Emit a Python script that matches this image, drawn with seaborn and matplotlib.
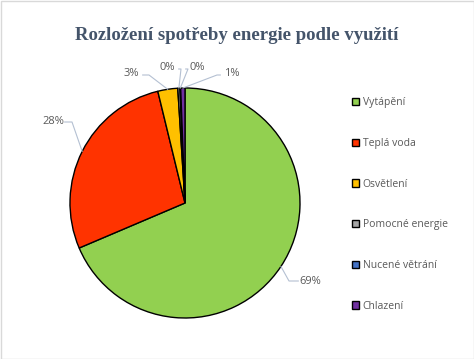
import numpy as np
import matplotlib
matplotlib.use("Agg")
import matplotlib.pyplot as plt
import seaborn as sns

categories = ["Vytápění", "Teplá voda", "Osvětlení", "Pomocné energie", "Nucené větrání", "Chlazení"]
values = [68.6, 27.6, 2.8, 0.3, 0.1, 0.6]
colors = ["#92D050", "#FF3300", "#FFC000", "#A6A6A6", "#4472C4", "#7030A0"]
title = "Rozložení spotřeby energie podle využití"

sns.set_theme(style="white")
plt.rcParams['font.family'] = ['Open Sans', 'DejaVu Sans']

W, H = 474, 359
fig = plt.figure(figsize=(W / 100, H / 100), dpi=100)
cx, cy, r = 185, 203, 115
ax = fig.add_axes([(cx - r) / W, (H - cy - r) / H, 2 * r / W, 2 * r / H])

wedges, _ = ax.pie(values, colors=colors, startangle=90, counterclock=False,
                   wedgeprops=dict(edgecolor="black", linewidth=1.0))
ax.set_xlim(-1, 1)
ax.set_ylim(-1, 1)
ax.set_aspect("equal")
ax.axis("off")

# label text positions (pixels) for layout
label_px = [(310, 281), (53, 121), (131, 74), (167, 68), (197, 67), (232, 74)]
elbow_px = [(289, 281), (72, 122), (149, 75), (181, 69), (188, 69), (217, 75)]
total = sum(values)
for w, v, (tx, ty), (ex, ey) in zip(wedges, values, label_px, elbow_px):
    ang = np.deg2rad((w.theta1 + w.theta2) / 2)
    xa, ya = np.cos(ang), np.sin(ang)
    txd, tyd = (tx - cx) / r, (cy - ty) / r
    exd, eyd = (ex - cx) / r, (cy - ey) / r
    endx = txd + (-0.1 if tx > ex else 0.1)
    ax.plot([xa, exd, endx], [ya, eyd, eyd], color="#B4C0D2", lw=0.8, clip_on=False)
    ax.text(txd, tyd, f"{v / total * 100:.0f}%", ha="center", va="center",
            fontsize=8, color="#595959")

fig.text(237 / W, 1 - 35 / H, title, ha="center", va="center",
         fontsize=13.5, fontweight="bold", color="#44546A", family="Liberation Serif")

leg = fig.legend(wedges, categories, loc="upper left", bbox_to_anchor=(348 / W, 1 - 93 / H),
                 frameon=False, fontsize=7.5, labelspacing=2.85, handlelength=0.7,
                 handleheight=0.7, handletextpad=0.3, borderaxespad=0)
for t in leg.get_texts():
    t.set_color("#595959")

fig.patches.append(plt.Rectangle((0.5 / W, 0.5 / H), 1 - 1 / W, 1 - 1 / H, transform=fig.transFigure,
                                 fill=False, edgecolor="#D9D9D9", lw=1))
fig.savefig("out.png", dpi=100)
